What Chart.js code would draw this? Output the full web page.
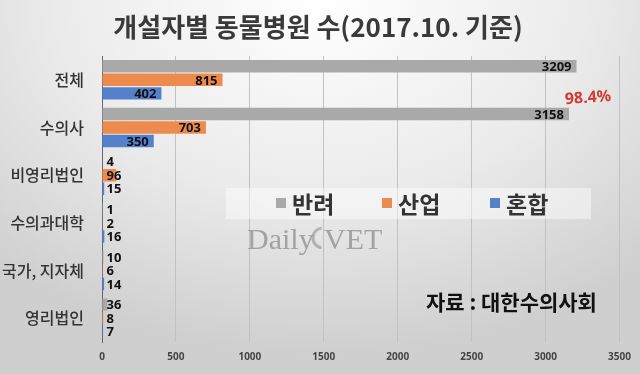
<!DOCTYPE html>
<html>
<head>
<meta charset="utf-8">
<script src="https://cdn.jsdelivr.net/npm/chart.js@4"></script>
<style>
  html, body { margin: 0; padding: 0; }
  body {
    width: 640px; height: 374px; overflow: hidden;
    background: radial-gradient(ellipse 75% 95% at 50% 0%, #ffffff 0%, #ebebeb 55%, #cfcfcf 100%);
  }
  #wrap { position: relative; width: 640px; height: 374px; }
</style>
</head>
<body>
<div id="wrap"><canvas id="vetChart"></canvas></div>
<script>
// ===============================
// 개설자별 동물병원 수 (2017.10.)
// ===============================
const categories = ["전체", "수의사", "비영리법인", "수의과대학", "국가, 지자체", "영리법인"];
const companion = [3209, 3158, 4, 1, 10, 36];   // 반려
const industry = [815, 703, 96, 2, 6, 8];       // 산업
const mixed = [402, 350, 15, 16, 14, 7];        // 혼합
const seriesNames = ["반려", "산업", "혼합"];
const xTicks = [0, 500, 1000, 1500, 2000, 2500, 3000, 3500];
const titleText = "개설자별 동물병원 수(2017.10. 기준)";

const KR = '"Noto Sans CJK KR", "Noto Sans", sans-serif';

// bar value labels (no datalabels plugin available)
const valueLabels = {
    id: "valueLabels",
    afterDatasetsDraw(chart) {
        const ctx = chart.ctx;
        ctx.save();
        ctx.font = "bold 13px 'Noto Sans', sans-serif";
        ctx.fillStyle = "#111";
        ctx.textBaseline = "middle";
        chart.data.datasets.forEach((ds, i) => {
            chart.getDatasetMeta(i).data.forEach((bar, j) => {
                const txt = String(ds.data[j]);
                const w = ctx.measureText(txt).width;
                const left = bar.base;
                if (bar.x - left > w + 12) {
                    ctx.textAlign = "right";
                    ctx.fillText(txt, bar.x - 5, bar.y + 1);
                } else {
                    ctx.textAlign = "left";
                    ctx.fillText(txt, left + 4, bar.y + 1);
                }
            });
        });
        ctx.restore();
    }
};

// title, legend box, watermark, notes
const extras = {
    id: "extras",
    afterDraw(chart) {
        const ctx = chart.ctx;
        ctx.save();
        // title (a bit right of canvas centre, like the original)
        ctx.fillStyle = "#3a3a3a";
        ctx.font = "bold 26px " + KR;
        ctx.textAlign = "center";
        ctx.textBaseline = "middle";
        ctx.fillText(titleText, 318, 27);

        // legend
        ctx.fillStyle = "rgba(255,255,255,0.45)";
        ctx.fillRect(226, 188, 365, 31);
        const pos = [276, 382, 490];
        ctx.font = "bold 23px " + KR;
        ctx.textAlign = "left";
        chart.data.datasets.forEach((ds, i) => {
            ctx.fillStyle = ds.backgroundColor;
            ctx.fillRect(pos[i], 198, 10, 10);
            ctx.fillStyle = "#333";
            ctx.fillText(seriesNames[i], pos[i] + 16, 204);
        });

        // watermark
        ctx.fillStyle = "rgba(140,140,140,0.75)";
        ctx.font = "30px 'Liberation Serif', serif";
        ctx.textBaseline = "alphabetic";
        ctx.fillText("Daily", 247, 249);
        ctx.fillText("VET", 324, 249);
        ctx.strokeStyle = "rgba(150,150,150,0.65)";
        ctx.lineWidth = 3;
        ctx.beginPath();
        ctx.arc(323, 238, 10, Math.PI * 0.55, Math.PI * 1.45);
        ctx.stroke();

        // source
        ctx.fillStyle = "#111";
        ctx.font = "bold 21px " + KR;
        ctx.textBaseline = "middle";
        ctx.fillText("자료 : 대한수의사회", 426, 302);

        // share of vets
        ctx.translate(588, 98);
        ctx.rotate(-0.07);
        ctx.fillStyle = "#d23a33";
        ctx.font = "bold 16px 'Noto Sans', sans-serif";
        ctx.textAlign = "center";
        ctx.fillText("98.4%", 0, 0);
        ctx.restore();
    }
};

new Chart(document.getElementById("vetChart"), {
    type: "bar",
    data: {
        labels: categories,
        datasets: [
            { label: seriesNames[0], data: companion, backgroundColor: "#a9a9a9" },
            { label: seriesNames[1], data: industry, backgroundColor: "#ed8b4f" },
            { label: seriesNames[2], data: mixed, backgroundColor: "#5580cc" }
        ]
    },
    options: {
        indexAxis: "y",
        responsive: true,
        maintainAspectRatio: false,
        animation: false,
        layout: {
            padding: { top: 56, right: 20, bottom: 0, left: 0 }
        },
        datasets: {
            bar: { barPercentage: 0.92, categoryPercentage: 0.85 }
        },
        scales: {
            x: {
                min: 0,
                max: 3500,
                afterBuildTicks: s => { s.ticks = xTicks.map(v => ({ value: v })); },
                afterFit: s => { s.height = 32; },
                grid: { color: "#c2c2c2", drawTicks: false },
                border: { display: false },
                ticks: {
                    padding: 9,
                    color: "#444",
                    callback: v => String(v),
                    font: { size: 10, weight: "bold", family: "'Noto Sans', sans-serif" }
                }
            },
            y: {
                afterFit: s => { s.width = 102; },
                grid: { display: false },
                border: { display: true, color: "#666", width: 1 },
                ticks: {
                    padding: 10,
                    color: "#333",
                    font: { size: 16, weight: "500", family: KR }
                }
            }
        },
        plugins: {
            legend: { display: false },
            tooltip: { enabled: false },
            title: { display: false }
        }
    },
    plugins: [valueLabels, extras]
});
</script>
</body>
</html>
